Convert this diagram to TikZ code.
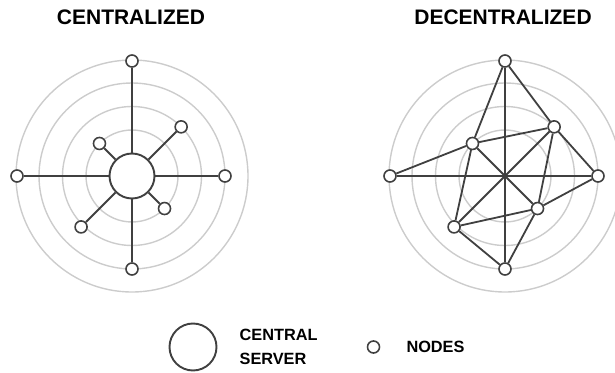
\documentclass[tikz,border=0pt]{standalone}
\usepackage{fontspec}
\setmainfont{Liberation Sans}
\usetikzlibrary{calc, positioning}
\tikzset{
ring/.style={
	draw=gray!40,
	line width=1.4pt,
},
server/.style={
	draw=black!75,
	line width=1.9pt,
	shape=circle,
	fill=white,
	inner sep=0pt,
	minimum size=45pt,
},
peer/.style={
	draw=black!75,
	line width=1.6pt,
	shape=circle,
	fill=white,
	inner sep=0pt,
	minimum size=12pt,
},
link/.style={
	draw=black!75,
	line width=1.8pt,
},
title/.style={
	font=\fontsize{21}{25}\selectfont\bfseries,
},
legend/.style={
	font=\fontsize{16.3}{23.3}\selectfont\bfseries,
	align=left,
	inner sep=0pt,
}
}

\begin{document}
\begin{tikzpicture}[x=1pt, y=1pt]
		\useasboundingbox (0,0) rectangle (615,372);
		% Centres
		\coordinate (lc) at (132,196);
		\coordinate (rc) at (505,196);
		
		% Titles
		\node[title] (ltitle) at (131,355) {CENTRALIZED};
		\node[title] (rtitle) at (503,355) {DECENTRALIZED};
		
		% Rings
		\draw[ring] (lc) circle (46pt) circle (69.5pt) circle (93pt) circle (116pt);
		\draw[ring] (rc) circle (46pt) circle (69.5pt) circle (93pt) circle (116pt);
		
		%% Centralized
		\node[server] (cs) at (lc) {};
		\node[peer] (cN) at ($(lc)+(90:115)$) {};
		\node[peer] (cW) at ($(lc)+(180:115)$) {};
		\node[peer] (cE) at ($(lc)+(0:93)$) {};
		\node[peer] (cS) at ($(lc)+(270:93)$) {};
		\node[peer] (cNE) at ($(lc)+(45:69.5)$) {};
		\node[peer] (cNW) at ($(lc)+(135:46)$) {};
		\node[peer] (cSE) at ($(lc)+(-45:46)$) {};
		\node[peer] (cSW) at ($(lc)+(-135:72)$) {};
		
		\draw[link] (cs) -- (cN);
		\draw[link] (cs) -- (cW);
		\draw[link] (cs) -- (cE);
		\draw[link] (cs) -- (cS);
		\draw[link] (cs) -- (cNE);
		\draw[link] (cs) -- (cNW);
		\draw[link] (cs) -- (cSE);
		\draw[link] (cs) -- (cSW);
		
		%% Decentralized
		\node[peer] (dN) at ($(rc)+(90:115)$) {};
		\node[peer] (dW) at ($(rc)+(180:115)$) {};
		\node[peer] (dE) at ($(rc)+(0:93)$) {};
		\node[peer] (dS) at ($(rc)+(270:93)$) {};
		\node[peer] (dNE) at ($(rc)+(45:69.5)$) {};
		\node[peer] (dNW) at ($(rc)+(135:46)$) {};
		\node[peer] (dSE) at ($(rc)+(-45:46)$) {};
		\node[peer] (dSW) at ($(rc)+(-135:72)$) {};
		
		% through the centre
		\draw[link] (dN) -- (dS);
		\draw[link] (dW) -- (dE);
		\draw[link] (dNE) -- (dSW);
		\draw[link] (dNW) -- (dSE);
		% outer mesh
		\draw[link] (dN) -- (dNW);
		\draw[link] (dN) -- (dNE);
		\draw[link] (dNW) -- (dNE);
		\draw[link] (dNW) -- (dW);
		\draw[link] (dNW) -- (dSW);
		\draw[link] (dNE) -- (dE);
		\draw[link] (dNE) -- (dSE);
		\draw[link] (dE) -- (dSE);
		\draw[link] (dSE) -- (dSW);
		\draw[link] (dSE) -- (dS);
		\draw[link] (dSW) -- (dS);
		
		% Legend
		\node[server, minimum size=47pt] (lserver) at (193,25) {};
		\node[legend, right = 22pt of lserver] (lservertext) {CENTRAL\\SERVER};
		\node[peer, right = 49pt of lservertext] (lpeer) {};
		\node[legend, right = 26pt of lpeer] (lpeertext) {NODES};
	\end{tikzpicture}
\end{document}
